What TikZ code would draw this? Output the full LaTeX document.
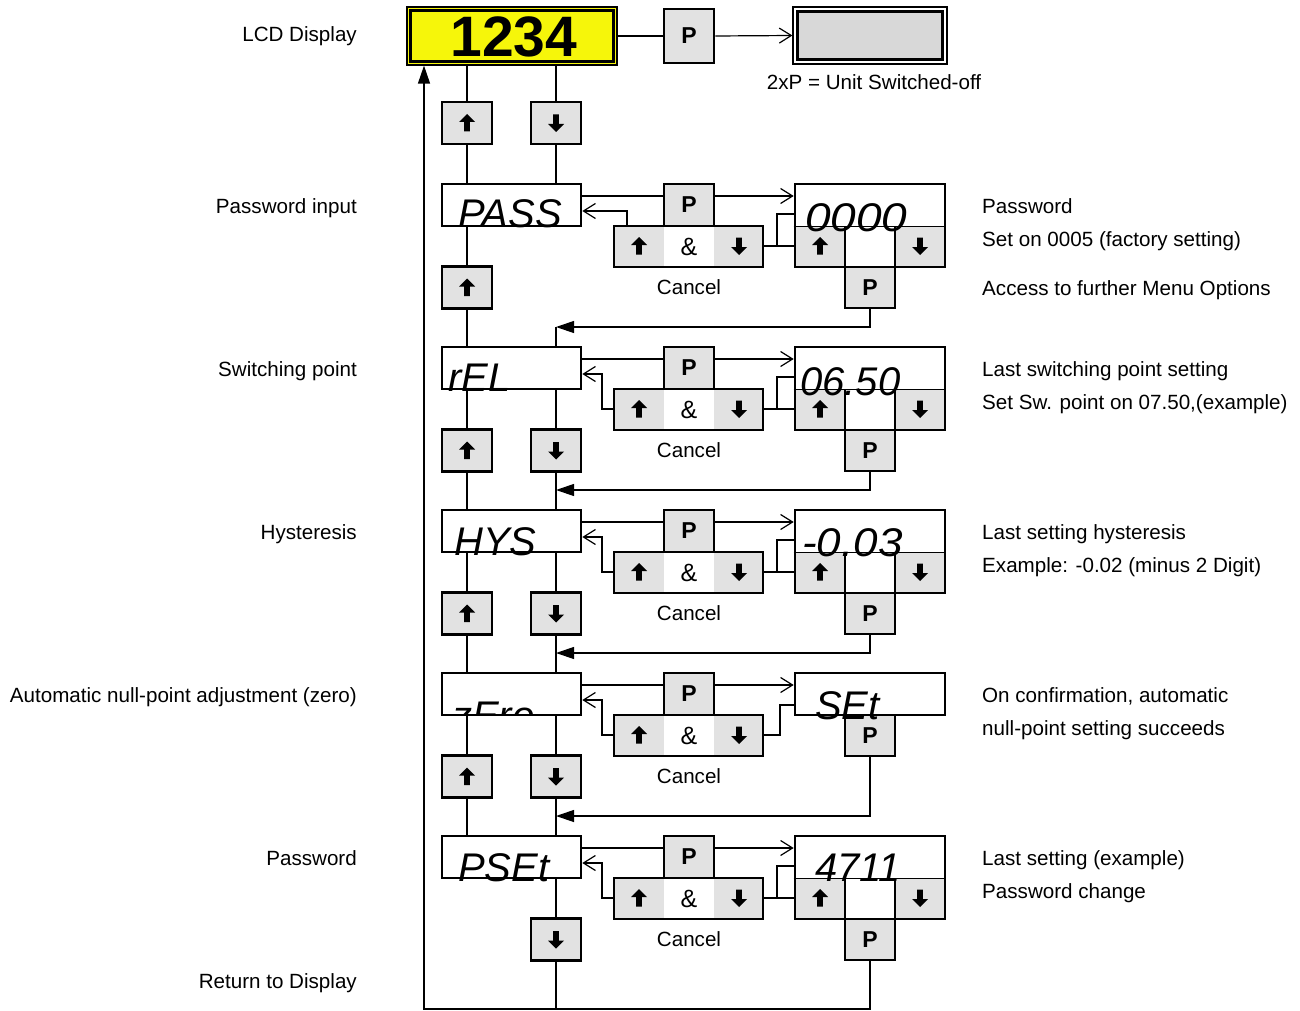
\documentclass[tikz,border=0pt]{standalone}
\usepackage{fontspec}
\setmainfont{Liberation Sans}
\usetikzlibrary{arrows.meta}
\definecolor{btngray}{RGB}{226,226,226}
\definecolor{lcdyellow}{RGB}{246,246,10}
\definecolor{offgray}{RGB}{216,216,216}
\newcommand\upglyph[1]{\fill (#1) ++(0,-9) -- ++(8,8) -- ++(-5.2,0) -- ++(0,9.5) -- ++(-5.6,0) -- ++(0,-9.5) -- ++(-5.2,0) -- cycle;}
\newcommand\downglyph[1]{\fill (#1) ++(0,9) -- ++(8,-8) -- ++(-5.2,0) -- ++(0,-9.5) -- ++(-5.6,0) -- ++(0,9.5) -- ++(-5.2,0) -- cycle;}
\begin{document}
\begin{tikzpicture}[x=1pt,y=-1pt,
 lab/.style={font=\fontsize{20.6}{24}\selectfont, inner sep=0pt},
 box/.style={draw, line width=2.6pt, rectangle, inner sep=0pt},
 disp/.style={box, fill=white, minimum width=139pt, minimum height=42pt},
 btn/.style={box, fill=btngray, minimum width=50pt, minimum height=42pt, font=\fontsize{23}{26}\selectfont\bfseries},
 seg/.style={inner sep=0pt, anchor=base west, font=\fontsize{40}{40}\selectfont\itshape},
 conn/.style={line width=1.2pt},
 barb/.style={conn, -{Straight Barb[length=12pt,width=15pt,line width=1.2pt]}},
 ret/.style={conn, -{Triangle[length=18pt,width=12pt]}},
]
\useasboundingbox (0,0) rectangle (1300,1011);

% ---------- top: LCD, P, switched-off display
\node[draw, line width=1.2pt, fill=lcdyellow, minimum width=210pt, minimum height=58pt, inner sep=0pt] (lcd) at (512,36) {};
\draw[line width=2.5pt] (410.5,10.5) rectangle (613.5,61.5);
\node[inner sep=0pt, font=\fontsize{57}{57}\selectfont\bfseries] (lcdtxt) at (514,37) {1234};
\node[btn, minimum height=54pt] (ptop) at (689,36) {P};
\node[draw, line width=1.2pt, fill=white, minimum width=154pt, minimum height=57pt, inner sep=0pt] (off) at (870,35.5) {};
\draw[line width=2.5pt, fill=offgray] (797.5,11.5) rectangle (942.5,59.5);
\node[lab, anchor=base] (offlab) at (874,90) {2xP = Unit Switched-off};
\draw[conn] (lcd.east) -- (ptop.west);
\draw[barb] (ptop.east) -- (off.west);

\node[btn] (tu) at (467,123) {}; \upglyph{tu.center}
\node[btn] (td) at (556,123) {}; \downglyph{td.center}

% ---------- rows: display, P, cancel group
\foreach \r/\T in {0/184,1/347,2/510,3/673,4/836}{
 \node[disp] (d\r) at (511.5,\T+21) {};
 \node[btn] (p\r) at (689,\T+21) {P};
 \node[box, fill=btngray, minimum width=149pt, minimum height=41pt] (c\r) at (688.5,\T+62.5) {};
 \node[fill=white, inner sep=0pt, minimum width=50pt, minimum height=38.4pt, font=\fontsize{25}{26}\selectfont] (amp\r) at (689,\T+62.5) {\&};
 \upglyph{639,\T+62}
 \downglyph{739,\T+62}
 \node[lab, anchor=base] (cancel\r) at (689,\T+110) {Cancel};
}

% ---------- value boxes with up/down cells
\foreach \r/\T in {0/184,1/347,2/510,4/836}{
 \fill[btngray] (795,\T+42) rectangle (845,\T+83);
 \fill[btngray] (895,\T+42) rectangle (945,\T+83);
 \node[box, minimum width=150pt, minimum height=83pt] (v\r) at (870,\T+41.5) {};
 \draw[line width=1pt] (v\r.west |- 0,\T+42) -- (v\r.east |- 0,\T+42);
 \node[btn, minimum height=41pt] (vp\r) at (870,\T+103.5) {P};
 \draw[line width=2.6pt] (845,\T+42) -- (845,\T+83) (895,\T+42) -- (895,\T+83);
 \upglyph{820,\T+62}
 \downglyph{920,\T+62}
}
\node[box, fill=white, minimum width=150pt, minimum height=42pt] (v3) at (870,694) {};
\node[btn, minimum height=41pt] (vp3) at (870,735.5) {P};

% ---------- seven-segment texts
\node[seg] (s0) at (458,227) {PASS};
\node[seg] (s1) at (448,391) {rEL};
\node[seg] (s2) at (454,555) {HYS};
\begin{scope}
 \clip (442,673) rectangle (581,715);
 \node[seg] (s3) at (452,729) {zEro};
\end{scope}
\node[seg] (s4) at (458,881) {PSEt};
\node[seg, xscale=1.15] (x0) at (805,231) {0000};
\node[seg] (x1) at (800,395) {06.50};
\node[seg, xscale=1.1] (x2) at (802,556) {-0.03};
\node[seg] (x3) at (815,719) {SEt};
\node[seg] (x4) at (815,881) {4711};

% ---------- left column buttons
\foreach \r/\T in {0/184,1/347,2/510,3/673}{
 \node[btn] (lu\r) at (467,\T+103.5) {}; \upglyph{lu\r.center}
}
\foreach \r/\T in {1/347,2/510,3/673,4/836}{
 \node[btn] (ld\r) at (556,\T+103.5) {}; \downglyph{ld\r.center}
}

% ---------- column connectors
\draw[conn] (tu.north |- lcd.south) -- (tu.north) (tu.south) -- (tu.south |- d0.north);
\draw[conn] (td.north |- lcd.south) -- (td.north) (td.south) -- (td.south |- d0.north);
\foreach \r/\n in {0/1,1/2,2/3,3/4}{
 \draw[conn] (lu\r.north |- d\r.south) -- (lu\r.north) (lu\r.south) -- (lu\r.south |- d\n.north);
}
\foreach \r/\n in {1/2,2/3,3/4}{
 \draw[conn] (ld\r.north |- d\r.south) -- (ld\r.north) (ld\r.south) -- (ld\r.south |- d\n.north);
}
\draw[conn] (ld4.north |- d4.south) -- (ld4.north);

% ---------- row connectors
\foreach \r/\T in {0/184,1/347,2/510,3/673,4/836}{
 \draw[conn] (d\r.east |- 0,\T+12) -- (p\r.west |- 0,\T+12);
 \draw[barb] (p\r.east |- 0,\T+12) -- (v\r.west |- 0,\T+12);
}
\draw[barb] (c0.north -| 627,0) -- (627,211) -- (d0.east |- 0,211);
\foreach \r/\T in {1/347,2/510,3/673,4/836}{
 \draw[barb] (c\r.west |- 0,\T+62) -- (602,\T+62) |- (d\r.east |- 0,\T+27);
}
\foreach \r/\T in {0/184,1/347,2/510,4/836}{
 \draw[conn] (c\r.east |- 0,\T+62) -- (v\r.west |- 0,\T+62);
 \draw[conn] (777,\T+62) |- (v\r.west |- 0,\T+30);
}
\draw[conn] (c3.east |- 0,735) -- (780,735) |- (v3.west |- 0,705);

\foreach \r/\T in {0/184,1/347,2/510,3/673}{
 \coordinate (rt\r) at (556,\T+143);
 \draw[ret] (vp\r.south) |- (rt\r);
}
\draw[conn] (rt0) -- (rt0 |- d1.north);

\coordinate (bl) at (424,1009);
\draw[conn] (ld4.south) -- (ld4.south |- bl);
\draw[ret] (vp4.south) |- (bl) -- (bl |- lcd.south);

% ---------- labels
\node[lab, anchor=base east] (l0) at (357,42) {LCD Display};
\node[lab, anchor=base east] (l1) at (357,213) {Password input};
\node[lab, anchor=base east] (l2) at (357,376) {Switching point};
\node[lab, anchor=base east] (l3) at (357,539) {Hysteresis};
\node[lab, anchor=base east] (l4) at (357,702) {Automatic null-point adjustment (zero)};
\node[lab, anchor=base east] (l5) at (357,865) {Password};
\node[lab, anchor=base east] (l6) at (357,988) {Return to Display};

\node[lab, anchor=base west] (r1a) at (982,213) {Password};
\node[lab, anchor=base west] (r1b) at (982,246) {Set on 0005 (factory setting)};
\node[lab, anchor=base west] (r1c) at (982,295) {Access to further Menu Options};
\node[lab, anchor=base west] (r2a) at (982,376) {Last switching point setting};
\node[lab, anchor=base west] (r2b) at (982,409) {Set Sw. point on 07.50,(example)};
\node[lab, anchor=base west] (r3a) at (982,539) {Last setting hysteresis};
\node[lab, anchor=base west] (r3b) at (982,572) {Example: -0.02 (minus 2 Digit)};
\node[lab, anchor=base west] (r4a) at (982,702) {On confirmation, automatic};
\node[lab, anchor=base west] (r4b) at (982,735) {null-point setting succeeds};
\node[lab, anchor=base west] (r5a) at (982,865) {Last setting (example)};
\node[lab, anchor=base west] (r5b) at (982,898) {Password change};
\end{tikzpicture}
\end{document}
